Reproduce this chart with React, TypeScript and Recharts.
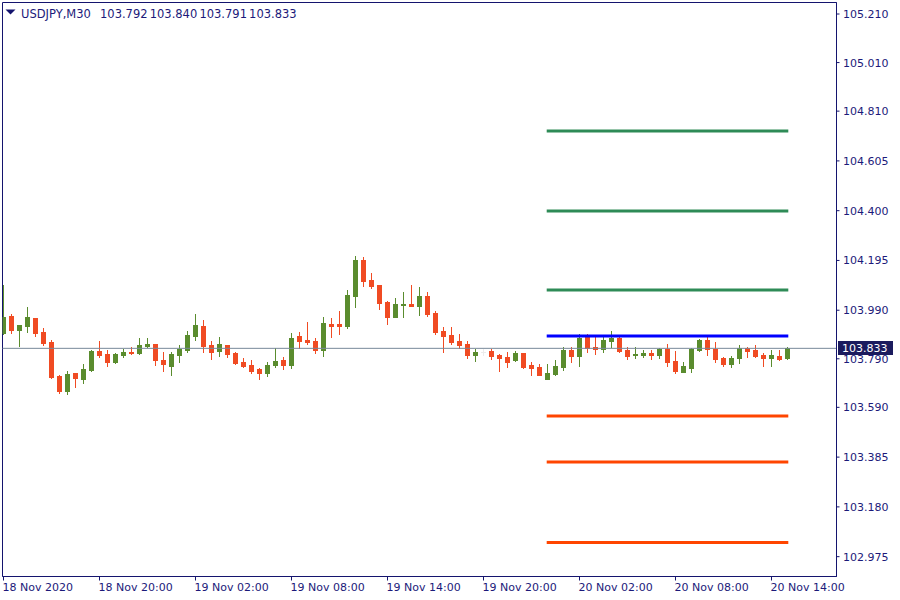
import React from 'react';
import { ComposedChart, Bar, XAxis, YAxis, ReferenceLine, ReferenceArea } from 'recharts';

const symbolTitle = 'USDJPY,M30';

const openPrices = [
  103.895, 103.966, 103.910, 103.926, 103.958, 103.900, 103.859, 103.719, 103.658, 103.731,
  103.708, 103.745, 103.822, 103.810, 103.778, 103.807, 103.818, 103.815, 103.844, 103.851,
  103.785, 103.761, 103.807, 103.827, 103.885, 103.925, 103.847, 103.823, 103.847, 103.814,
  103.777, 103.764, 103.748, 103.733, 103.765, 103.785, 103.765, 103.884, 103.867, 103.863,
  103.827, 103.933, 103.933, 103.926, 104.050, 104.197, 104.114, 104.094, 104.024, 103.963,
  104.013, 104.016, 104.009, 104.048, 103.978, 103.904, 103.888, 103.863, 103.851, 103.807,
  103.818, 103.822, 103.805, 103.797, 103.786, 103.814, 103.764, 103.756, 103.708, 103.727,
  103.757, 103.826, 103.803, 103.880, 103.838, 103.831, 103.864, 103.875, 103.826, 103.807,
  103.807, 103.815, 103.807, 103.830, 103.781, 103.737, 103.753, 103.827, 103.867, 103.831,
  103.793, 103.770, 103.794, 103.834, 103.826, 103.807, 103.794, 103.803, 103.792,
];
const highPrices = [
  104.094, 103.974, 103.930, 104.003, 103.960, 103.917, 103.866, 103.723, 103.740, 103.732,
  103.768, 103.826, 103.863, 103.826, 103.814, 103.830, 103.838, 103.875, 103.875, 103.852,
  103.818, 103.818, 103.847, 103.904, 103.974, 103.950, 103.863, 103.880, 103.848, 103.818,
  103.793, 103.785, 103.752, 103.777, 103.834, 103.797, 103.896, 103.900, 103.941, 103.875,
  103.962, 103.958, 103.987, 104.073, 104.213, 104.209, 104.143, 104.095, 104.028, 104.040,
  104.065, 104.094, 104.086, 104.065, 103.987, 103.921, 103.921, 103.892, 103.863, 103.831,
  103.829, 103.831, 103.811, 103.818, 103.822, 103.815, 103.777, 103.768, 103.768, 103.785,
  103.838, 103.838, 103.892, 103.892, 103.880, 103.880, 103.904, 103.880, 103.838, 103.838,
  103.826, 103.826, 103.834, 103.851, 103.822, 103.777, 103.834, 103.871, 103.884, 103.859,
  103.797, 103.801, 103.847, 103.838, 103.847, 103.815, 103.826, 103.826, 103.840,
];
const lowPrices = [
  103.893, 103.897, 103.844, 103.901, 103.885, 103.848, 103.712, 103.650, 103.646, 103.675,
  103.691, 103.741, 103.798, 103.761, 103.774, 103.798, 103.811, 103.811, 103.840, 103.765,
  103.741, 103.724, 103.778, 103.819, 103.868, 103.819, 103.790, 103.803, 103.798, 103.770,
  103.757, 103.733, 103.708, 103.720, 103.757, 103.749, 103.753, 103.834, 103.851, 103.815,
  103.803, 103.881, 103.893, 103.918, 104.004, 104.091, 104.083, 103.996, 103.934, 103.962,
  103.963, 104.008, 103.971, 103.967, 103.893, 103.819, 103.852, 103.835, 103.794, 103.781,
  103.805, 103.789, 103.741, 103.757, 103.782, 103.753, 103.724, 103.723, 103.707, 103.724,
  103.745, 103.777, 103.761, 103.819, 103.811, 103.819, 103.840, 103.819, 103.790, 103.794,
  103.798, 103.790, 103.794, 103.761, 103.733, 103.736, 103.736, 103.823, 103.807, 103.778,
  103.761, 103.757, 103.774, 103.798, 103.798, 103.761, 103.761, 103.786, 103.791,
];
const closePrices = [
  103.962, 103.910, 103.929, 103.962, 103.897, 103.856, 103.716, 103.658, 103.727, 103.712,
  103.748, 103.822, 103.807, 103.778, 103.810, 103.818, 103.815, 103.847, 103.851, 103.786,
  103.770, 103.810, 103.830, 103.888, 103.929, 103.844, 103.819, 103.851, 103.811, 103.774,
  103.761, 103.741, 103.733, 103.764, 103.781, 103.765, 103.875, 103.863, 103.859, 103.827,
  103.937, 103.926, 103.926, 104.053, 104.197, 104.111, 104.091, 104.021, 103.963, 104.016,
  104.016, 104.009, 104.048, 103.976, 103.901, 103.885, 103.860, 103.848, 103.807, 103.818,
  103.818, 103.803, 103.794, 103.778, 103.814, 103.757, 103.753, 103.724, 103.731, 103.760,
  103.826, 103.803, 103.875, 103.835, 103.831, 103.867, 103.875, 103.823, 103.803, 103.811,
  103.815, 103.807, 103.830, 103.778, 103.741, 103.760, 103.830, 103.867, 103.831, 103.790,
  103.770, 103.793, 103.834, 103.823, 103.803, 103.794, 103.807, 103.790, 103.833,
];

const xTickIndex = [0, 12, 24, 36, 48, 60, 72, 84, 96];
const xTickLabels = [
  '18 Nov 2020', '18 Nov 20:00', '19 Nov 02:00', '19 Nov 08:00', '19 Nov 14:00',
  '19 Nov 20:00', '20 Nov 02:00', '20 Nov 08:00', '20 Nov 14:00',
];
const yTicks = [102.975, 103.18, 103.385, 103.59, 103.79, 103.99, 104.195, 104.4, 104.605, 104.81, 105.01, 105.21];

const resistanceLevels = [104.728, 104.399, 104.073];
const pivotLevel = 103.884;
const supportLevels = [103.554, 103.365, 103.033];
const levelStartIdx = 67.9;
const levelEndIdx = 98.1;

const X_DOMAIN: [number, number] = [-0.125, 104.125];
const Y_DOMAIN: [number, number] = [102.8933, 105.2574];

const BULL = '#5a8c2e';
const BEAR = '#f04b23';
const DOJI = '#ececec';
const AXIS = '#1c1a7a';
const FRAME = '#14146e';
const FONT = '"DejaVu Sans", Verdana, sans-serif';

const candles = openPrices.map((o, i) => ({
  idx: i,
  open: o,
  high: highPrices[i],
  low: lowPrices[i],
  close: closePrices[i],
}));
const last = candles[candles.length - 1];

function CandleShape(props: any) {
  const { x, y, width, height, payload } = props;
  if (!payload || x == null || y == null) return null;
  const { open, high, low, close } = payload;
  const yHigh = y;
  const yLow = y + height;
  const span = high - low;
  const yOf = (p: number) => (span === 0 ? yHigh : yHigh + ((high - p) / span) * (yLow - yHigh));
  const color = close > open ? BULL : close < open ? BEAR : DOJI;
  const c = Math.floor(x + width / 2);
  const top = Math.round(Math.min(yOf(open), yOf(close)));
  const bot = Math.round(Math.max(yOf(open), yOf(close)));
  const wTop = Math.round(yHigh);
  const wBot = Math.round(yLow);
  return (
    <g>
      <rect x={c} y={wTop} width={1} height={Math.max(1, wBot - wTop + 1)} fill={color} />
      <rect x={c - 2} y={top} width={5} height={Math.max(1, bot - top + 1)} fill={color} />
    </g>
  );
}

function XTick(props: any) {
  const { x, y, payload } = props;
  const i = xTickIndex.indexOf(payload.value);
  return (
    <text x={x - 1} y={y + 10.5} fill={AXIS} fontSize={11} fontFamily={FONT} textAnchor="start">
      {i >= 0 ? xTickLabels[i] : ''}
    </text>
  );
}

function YTick(props: any) {
  const { x, y, payload } = props;
  return (
    <text x={x + 3.5} y={y + 4} fill={AXIS} fontSize={11} fontFamily={FONT} textAnchor="start">
      {Number(payload.value).toFixed(3)}
    </text>
  );
}

function PriceTag(props: any) {
  const vb = props.viewBox || {};
  const right = (vb.x ?? 2.5) + (vb.width ?? 834);
  const cy = Math.round(vb.y ?? 348);
  const bx = right + 1.5;
  return (
    <g>
      <rect x={bx} y={cy - 7} width={55} height={14} fill="#1b1b5e" />
      <text x={bx + 4} y={cy + 4} fill="#ffffff" fontSize={11} fontFamily={FONT}>
        {last.close.toFixed(3)}
      </text>
    </g>
  );
}

export default function App() {
  const ohlc = [last.open, last.high, last.low, last.close].map((v) => v.toFixed(3));
  return (
    <div style={{ position: 'absolute', left: 0, top: 0, width: 900, height: 600, background: '#ffffff', overflow: 'hidden' }}>
      <ComposedChart
        width={900}
        height={600}
        data={candles}
        margin={{ top: 2.5, left: 2.5, right: 0, bottom: 0 }}
      >
        <XAxis
          dataKey="idx"
          type="number"
          domain={X_DOMAIN}
          allowDataOverflow
          ticks={xTickIndex}
          interval={0}
          height={23.5}
          tickSize={4}
          tickMargin={0}
          axisLine={{ stroke: FRAME }}
          tickLine={{ stroke: FRAME }}
          tick={<XTick />}
        />
        <YAxis
          orientation="right"
          type="number"
          domain={Y_DOMAIN}
          allowDataOverflow
          ticks={yTicks}
          interval={0}
          width={63.5}
          tickSize={3}
          tickMargin={0}
          axisLine={{ stroke: FRAME }}
          tickLine={{ stroke: FRAME }}
          tick={<YTick />}
        />
        <ReferenceArea
          x1={X_DOMAIN[0]}
          x2={X_DOMAIN[1]}
          y1={Y_DOMAIN[0]}
          y2={Y_DOMAIN[1]}
          fill="none"
          fillOpacity={0}
          stroke={FRAME}
          strokeWidth={1}
        />
        <ReferenceLine y={last.close} stroke="#778899" strokeWidth={1} label={(p: any) => <PriceTag {...p} />} />
        <Bar
          dataKey={(d: any) => [d.low, d.high]}
          barSize={5}
          isAnimationActive={false}
          shape={(p: any) => <CandleShape {...p} />}
        />
        {resistanceLevels.map((lv) => (
          <ReferenceLine
            key={`r${lv}`}
            segment={[{ x: levelStartIdx, y: lv }, { x: levelEndIdx, y: lv }]}
            stroke="#2e8b57"
            strokeWidth={3}
          />
        ))}
        <ReferenceLine
          segment={[{ x: levelStartIdx, y: pivotLevel }, { x: levelEndIdx, y: pivotLevel }]}
          stroke="#0000ff"
          strokeWidth={3}
        />
        {supportLevels.map((lv) => (
          <ReferenceLine
            key={`s${lv}`}
            segment={[{ x: levelStartIdx, y: lv }, { x: levelEndIdx, y: lv }]}
            stroke="#ff4500"
            strokeWidth={3}
          />
        ))}
      </ComposedChart>
      <svg width={320} height={24} style={{ position: 'absolute', left: 0, top: 0 }}>
        <polygon points="5.5,9.5 15.5,9.5 10.5,14.5" fill={FRAME} />
        <text x={21} y={18} fill={AXIS} fontSize={11.5} fontFamily={FONT}>{symbolTitle}</text>
        {ohlc.map((v, i) => (
          <text key={i} x={100 + i * 49.7} y={18} fill={AXIS} fontSize={11.5} fontFamily={FONT}>
            {v}
          </text>
        ))}
      </svg>
    </div>
  );
}
